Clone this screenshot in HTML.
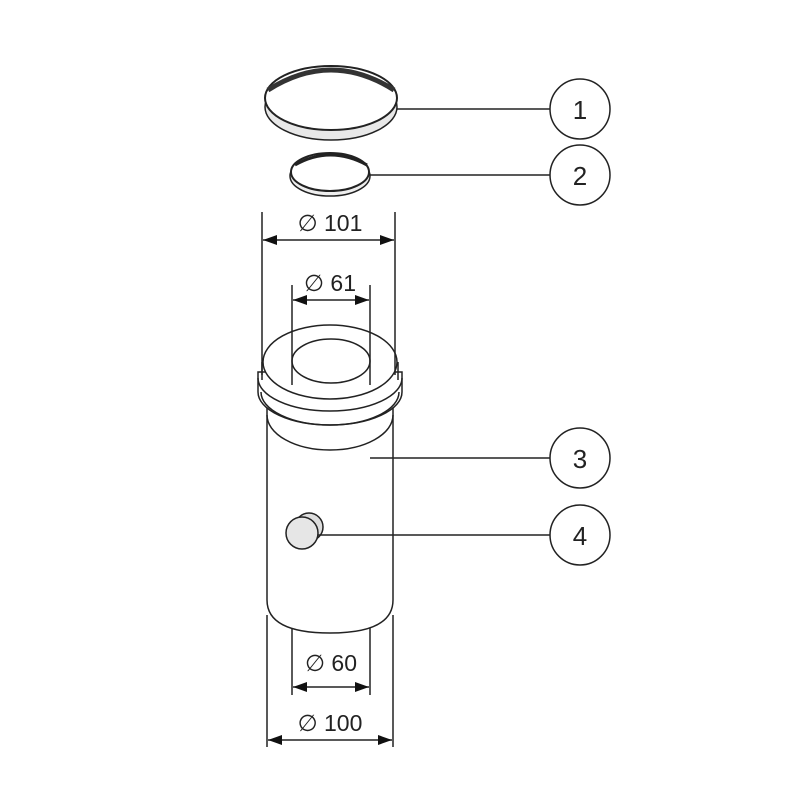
<!DOCTYPE html>
<html><head><style>body{margin:0;background:#fff}svg{display:block}</style></head><body>
<svg width="800" height="800" viewBox="0 0 800 800" xmlns="http://www.w3.org/2000/svg" font-family="Liberation Sans, sans-serif">
<defs><marker id="a" markerWidth="14" markerHeight="10" refX="14" refY="5" orient="auto-start-reverse" markerUnits="userSpaceOnUse"><path d="M0,0 L14,5 L0,10 z" fill="#111"/></marker></defs>
<g fill="none" stroke="#222" stroke-width="1.5">
<ellipse cx="331" cy="107" rx="66" ry="33" fill="#e8e8e8"/>
<ellipse cx="331" cy="98" rx="66" ry="32" fill="#fff" stroke-width="2"/>
<path d="M268,90 Q331,50 394,90" stroke="#333" stroke-width="5"/>
<ellipse cx="330" cy="176" rx="40" ry="20" fill="#eee"/>
<ellipse cx="330" cy="172" rx="39" ry="19" fill="#fff" stroke-width="2"/>
<path d="M295,165 Q330,145 367,165" stroke-width="3"/>
<path d="M267,395 L267,600 Q267,633 330,633 Q393,633 393,600 L393,395" fill="#fff"/>
<path d="M258,372 L258,392 A72,33 0 0 0 402,392 L402,372 Z" fill="#fff"/>
<path d="M258,378 A72,33 0 0 0 402,378"/>
<path d="M261,392 A69,33 0 0 0 399,392"/>
<path d="M267,415 A63,35 0 0 0 393,415"/>
<path d="M262,362 L262,380 M398,362 L398,380"/>
<ellipse cx="330" cy="362" rx="67" ry="37" fill="#fff"/>
<ellipse cx="331" cy="361" rx="39" ry="22" fill="#fff"/>
<circle cx="309" cy="527" r="14" fill="#ddd"/>
<circle cx="302" cy="533" r="16" fill="#e6e6e6"/>
<line x1="397" y1="109" x2="550" y2="109"/>
<line x1="370" y1="175" x2="550" y2="175"/>
<line x1="370" y1="458" x2="550" y2="458"/>
<line x1="318" y1="535" x2="550" y2="535"/>
<circle cx="580" cy="109" r="30" fill="#fff"/>
<circle cx="580" cy="175" r="30" fill="#fff"/>
<circle cx="580" cy="458" r="30" fill="#fff"/>
<circle cx="580" cy="535" r="30" fill="#fff"/>
<line x1="262" y1="212" x2="262" y2="375"/>
<line x1="395" y1="212" x2="395" y2="375"/>
<line x1="292" y1="285" x2="292" y2="385"/>
<line x1="370" y1="285" x2="370" y2="385"/>
<line x1="263" y1="240" x2="394" y2="240" marker-start="url(#a)" marker-end="url(#a)"/>
<line x1="293" y1="300" x2="369" y2="300" marker-start="url(#a)" marker-end="url(#a)"/>
<line x1="267" y1="615" x2="267" y2="747"/>
<line x1="393" y1="615" x2="393" y2="747"/>
<line x1="292" y1="628" x2="292" y2="695"/>
<line x1="370" y1="628" x2="370" y2="695"/>
<line x1="293" y1="687" x2="369" y2="687" marker-start="url(#a)" marker-end="url(#a)"/>
<line x1="268" y1="740" x2="392" y2="740" marker-start="url(#a)" marker-end="url(#a)"/>
</g>
<g fill="#222" font-size="26" text-anchor="middle">
<text x="580" y="119">1</text><text x="580" y="185">2</text>
<text x="580" y="468">3</text><text x="580" y="545">4</text>
</g>
<g fill="#222" font-size="23" text-anchor="middle">
<text x="330" y="231">∅ 101</text>
<text x="330" y="291">∅ 61</text>
<text x="331" y="671">∅ 60</text>
<text x="330" y="731">∅ 100</text>
</g>
</svg>
</body></html>
